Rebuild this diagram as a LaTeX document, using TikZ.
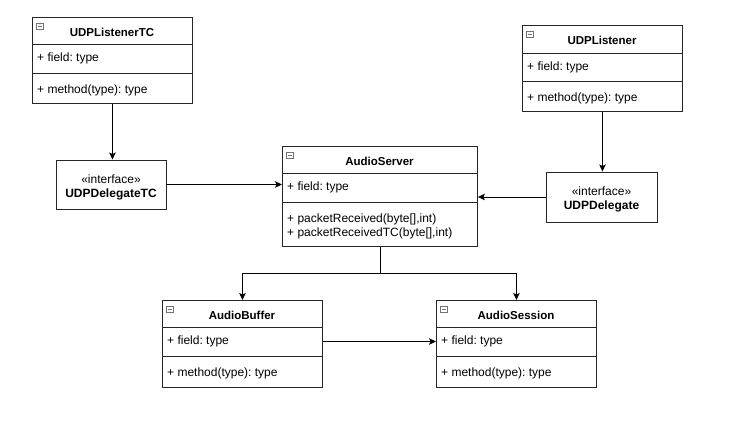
\documentclass[tikz,border=0pt]{standalone}
\usepackage{fontspec}
\setmainfont{Liberation Sans}
\usetikzlibrary{arrows.meta}
\frenchspacing
\tikzset{
  boxline/.style={draw=black!85, line width=0.9pt},
  classframe/.style={boxline, fill=white, rectangle, inner sep=0pt, anchor=north west},
  classtitle/.style={font=\fontsize{11.5}{13}\selectfont\bfseries, inner sep=0pt},
  member/.style={font=\fontsize{12}{14}\selectfont, inner sep=0pt, anchor=west, align=left},
  iconbox/.style={draw=black!55, line width=0.6pt, fill=white},
  ifacebox/.style={boxline, fill=white, rectangle, inner sep=0pt},
  ifacetext/.style={inner sep=0pt, align=center, font=\fontsize{12}{14}\selectfont},
  arr/.style={draw=black, line width=0.9pt, -{Stealth[length=7pt,width=6.5pt,inset=1.5pt]}},
  conn/.style={draw=black, line width=0.9pt}
}
% #1 name, #2 left, #3 top, #4 right, #5 header line, #6 divider, #7 bottom, #8 title, #9 methods
\newcommand\umlclassbox[9]{%
  \node[classframe, minimum width={#4pt-#2pt}, minimum height={#7pt-#3pt}] (#1) at (#2,#3) {};
  \draw[boxline] (#2,#5) -- (#4,#5);
  \draw[boxline] (#2,#6) -- (#4,#6);
  \draw[iconbox] (#2+4,#3+6) rectangle (#2+11,#3+12.5);
  \draw[black!55, line width=0.6pt] (#2+5.5,#3+9.25) -- (#2+9.5,#3+9.25);
  \node[classtitle] (#1-title) at ({(#2+#4)/2},{(#3+#5)/2+1.5}) {#8};
  \node[member] (#1-field) at (#2+5,{(#5+#6)/2}) {+ field: type};
  \node[member] (#1-methods) at (#2+5,{(#6+#7)/2+2}) {#9};
}
\begin{document}
\begin{tikzpicture}[x=1pt,y=-1pt]
\useasboundingbox[fill=white] (0,0) rectangle (730,420);

\umlclassbox{ltc}{32}{17}{192}{44}{73}{103}{UDPListenerTC}{+ method(type): type}
\umlclassbox{lis}{522}{25}{682}{53}{81}{111}{UDPListener}{+ method(type): type}
\umlclassbox{srv}{282}{146}{477}{173}{202}{246}{AudioServer}{+ packetReceived(byte[],int)\\+ packetReceivedTC(byte[],int)}
\umlclassbox{buf}{162}{300}{322}{327}{356}{387}{AudioBuffer}{+ method(type): type}
\umlclassbox{ses}{436}{300}{596}{327}{356}{387}{AudioSession}{+ method(type): type}

\node[ifacebox, minimum width=110pt, minimum height=49pt] (dtc) at (111,184.5) {};
\node[ifacetext] (dtc-text) at (111,187)
  {«interface»\\\textbf{UDPDelegateTC}};
\node[ifacebox, minimum width=111pt, minimum height=50pt] (del) at (601.5,197) {};
\node[ifacetext] (del-text) at (601.5,199.5)
  {«interface»\\\textbf{UDPDelegate}};

\draw[arr] (ltc.south) -- (ltc.south |- dtc.north);
\draw[arr] (lis.south) -- (lis.south |- del.north);
\draw[arr] (dtc.east) -- (dtc.east -| srv.west);
\draw[arr] (del.west) -- (del.west -| srv.east);
\draw[conn] (srv.south) -- ++(0,27) coordinate (split);
\draw[arr] (split) -| (buf.north);
\draw[arr] (split) -| (ses.north);
\draw[arr] (buf.east |- buf-field) -- (ses.west |- buf-field);
\end{tikzpicture}
\end{document}
